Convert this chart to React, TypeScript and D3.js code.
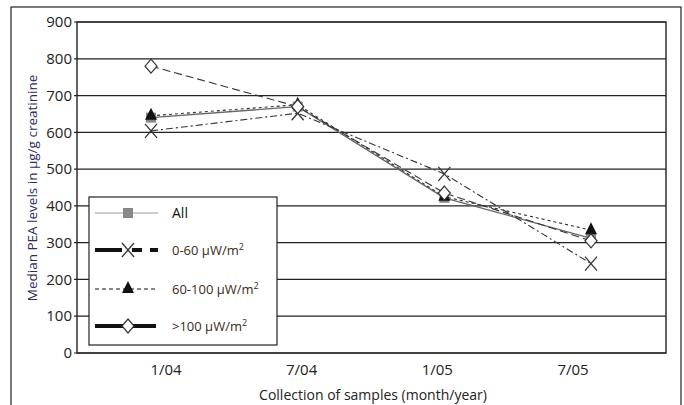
import React from "react";
import * as d3 from "d3";

const categories = ["1/04", "7/04", "1/05", "7/05"];
const yTicks = [0, 100, 200, 300, 400, 500, 600, 700, 800, 900];
const allValues = [640, 670, 422, 312];
const low = [604, 652, 487, 243];
const mid = [645, 675, 425, 334];
const high = [780, 670, 435, 305];
const seriesNames = ["All", "0-60 μW/m", "60-100 μW/m", ">100 μW/m"];

const W = 684, H = 405;
const plot = { l: 77, r: 666, t: 22, b: 353 };

export default function App() {
  const y = d3.scaleLinear().domain([0, 900]).range([plot.b, plot.t]);
  const x = d3.scalePoint<string>().domain(categories).range([151, 591]);
  const xl = d3.scalePoint<string>().domain(categories).range([166, 573]);
  const line = d3.line<number>().x((_, i) => x(categories[i])!).y((d) => y(d));
  const font = "'Liberation Sans Narrow', 'Open Sans', sans-serif";

  const series = [
    { name: seriesNames[0], vals: allValues, stroke: "#666", sw: 1.3, dash: "", marker: "square" },
    { name: seriesNames[1], vals: low, stroke: "#333", sw: 1.1, dash: "7,3,2,3", marker: "x" },
    { name: seriesNames[2], vals: mid, stroke: "#333", sw: 1.1, dash: "3,3", marker: "tri" },
    { name: seriesNames[3], vals: high, stroke: "#333", sw: 1.1, dash: "8,4", marker: "diamond" },
  ];

  const marker = (m: string, cx: number, cy: number, key: string) => {
    if (m === "square") return <rect key={key} x={cx - 5} y={cy - 5} width={10} height={10} fill="#888" />;
    if (m === "x") return <path key={key} d={`M${cx - 6},${cy - 7}L${cx + 6},${cy + 7}M${cx + 6},${cy - 7}L${cx - 6},${cy + 7}`} stroke="#333" strokeWidth={1.3} fill="none" />;
    if (m === "tri") return <path key={key} d={`M${cx},${cy - 8}L${cx + 6},${cy + 4}L${cx - 6},${cy + 4}Z`} fill="#111" />;
    return <path key={key} d={`M${cx},${cy - 7}L${cx + 6},${cy}L${cx},${cy + 7}L${cx - 6},${cy}Z`} fill="#fff" stroke="#333" strokeWidth={1.2} />;
  };

  const legend = { x: 89, y: 197, w: 188, h: 148 };
  const legendRows = [213, 250, 289, 326];
  const legendLine = [
    <line key="l0" x1={95} x2={158} y1={0} y2={0} stroke="#999" strokeWidth={1.2} />,
    <g key="l1"><line x1={95} x2={122} y1={0} y2={0} stroke="#111" strokeWidth={4} /><line x1={132} x2={158} y1={0} y2={0} stroke="#111" strokeWidth={4} strokeDasharray="10,8" /></g>,
    <line key="l2" x1={95} x2={158} y1={0} y2={0} stroke="#111" strokeWidth={1} strokeDasharray="4,3" />,
    <line key="l3" x1={95} x2={156} y1={0} y2={0} stroke="#111" strokeWidth={4} />,
  ];

  return (
    <svg width={W} height={H} style={{ position: "absolute", left: 0, top: 0, background: "#fff" }} fontFamily={font}>
      <rect x={11} y={7} width={670} height={410} fill="#fff" stroke="#222" strokeWidth={1.2} />
      {yTicks.map((t) => (
        <g key={t}>
          <line x1={plot.l - 3} x2={plot.r} y1={y(t)} y2={y(t)} stroke="#222" strokeWidth={1.2} />
          <text x={plot.l - 5} y={y(t)} dy="0.35em" textAnchor="end" fontSize={15} fill="#222">{t}</text>
        </g>
      ))}
      <rect x={plot.l} y={plot.t} width={plot.r - plot.l} height={plot.b - plot.t} fill="none" stroke="#222" strokeWidth={1.4} />
      {categories.map((c) => (
        <text key={c} x={xl(c)} y={375} textAnchor="middle" fontSize={15} fill="#222">{c}</text>
      ))}
      <text x={373} y={400} textAnchor="middle" fontSize={14} fill="#222">Collection of samples (month/year)</text>
      <text transform={`translate(37,188) rotate(-90)`} textAnchor="middle" fontSize={13.5} fill="#2a2a5e">Median PEA levels in μg/g creatinine</text>
      {series.map((s, si) => (
        <path key={"p" + si} d={line(s.vals)!} fill="none" stroke={s.stroke} strokeWidth={s.sw} strokeDasharray={s.dash} />
      ))}
      {series.map((s, si) => s.vals.map((v, i) => marker(s.marker, x(categories[i])!, y(v), `m${si}-${i}`)))}
      <rect x={legend.x} y={legend.y} width={legend.w} height={legend.h} fill="#fff" stroke="#222" strokeWidth={1.2} />
      {series.map((s, i) => (
        <g key={"lg" + i} transform={`translate(0,${legendRows[i]})`}>
          {legendLine[i]}
          {marker(s.marker, 128, 0, "lm" + i)}
          <text x={172} y={0} dy="0.35em" fontSize={i === 0 ? 14 : 13} fill={i === 0 ? "#111" : "#3a2a1a"}>
            {s.name}
            {i > 0 ? <tspan dy="-5" fontSize={9}>2</tspan> : null}
          </text>
        </g>
      ))}
    </svg>
  );
}
